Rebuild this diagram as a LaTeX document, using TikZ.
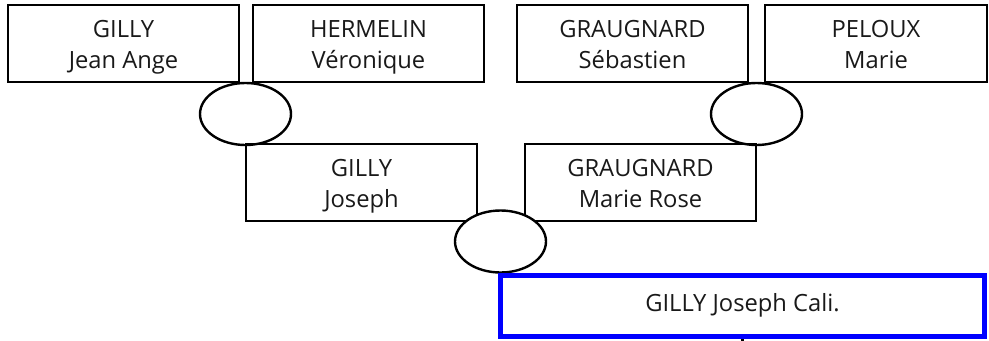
\documentclass[tikz,border=0pt]{standalone}
\usepackage{fontspec}
\setmainfont{Open Sans}
\usetikzlibrary{shapes.geometric}
\newcommand{\toprl}{\rule{0pt}{19pt}}
\newcommand{\botrl}{\rule[-5pt]{0pt}{5pt}}
\tikzset{
  person/.style={draw=black, line width=1.8pt, rectangle, inner sep=0pt,
    minimum width=173.25pt, minimum height=57.75pt, align=center,
    font=\fontsize{17.8}{23.25}\selectfont, text=black!90},
  union/.style={draw=black, line width=1.8pt, ellipse, inner sep=0pt,
    minimum width=68.25pt, minimum height=46.5pt, fill=white},
  subject/.style={draw=blue, line width=3.75pt, rectangle, inner sep=0pt,
    minimum width=363pt, minimum height=45.75pt,
    font=\fontsize{17.8}{23.25}\selectfont, text=black!90},
}
\begin{document}
\begin{tikzpicture}[x=0.75pt, y=-0.75pt]
\useasboundingbox (0,0) rectangle (989,340);
\node[person] (p1) at (123.5,43.5) {\toprl GILLY\\Jean Ange\botrl};
\node[person] (p2) at (368.5,43.5) {\toprl HERMELIN\\Véronique\botrl};
\node[person] (p5) at (632.5,43.5) {\toprl GRAUGNARD\\Sébastien\botrl};
\node[person, minimum width=166.5pt] (p6) at (876,43.5) {\toprl PELOUX\\Marie\botrl};
\node[union] (u1) at (245.5,114) {};
\node[union] (u2) at (756.5,114) {};
\node[person] (p3) at (361.5,182.5) {\toprl GILLY\\Joseph\botrl};
\node[person] (p4) at (640.5,182.5) {\toprl GRAUGNARD\\Marie Rose\botrl};
\node[union] (u3) at (500.5,241.5) {};
\node[subject] (s) at (742.5,306) {GILLY Joseph Cali.\botrl};
\coordinate (tick) at (742.5,341);
\draw[line width=1.8pt] (s.south) -- (tick);
\end{tikzpicture}
\end{document}
